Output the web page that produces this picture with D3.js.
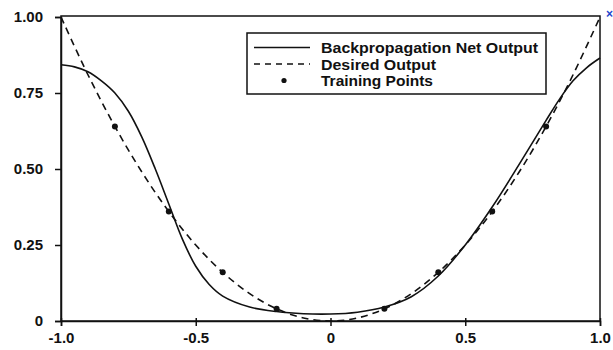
<!DOCTYPE html>
<html><head><meta charset="utf-8">
<script src="https://cdn.jsdelivr.net/npm/d3@7"></script>
<style>body{margin:0;background:#fff}svg{display:block}</style>
</head><body>
<svg id="c" width="613" height="350"></svg>
<script>
// Data
const xTicks = [-1.0, -0.5, 0, 0.5, 1.0];
const xTickLabels = ["-1.0", "-0.5", "0", "0.5", "1.0"];
const yTicks = [0, 0.25, 0.5, 0.75, 1.0];
const yTickLabels = ["0", "0.25", "0.50", "0.75", "1.00"];

const netX = [-1.0, -0.95, -0.9, -0.85, -0.8, -0.75, -0.7, -0.65, -0.6, -0.55, -0.5, -0.45, -0.4, -0.3, -0.2, -0.1, 0.0, 0.1, 0.2, 0.3, 0.4, 0.5, 0.6, 0.7, 0.8, 0.85, 0.9, 0.95, 1.0];
const netY = [0.843, 0.836, 0.82, 0.79, 0.75, 0.69, 0.605, 0.50, 0.385, 0.27, 0.18, 0.12, 0.082, 0.046, 0.031, 0.024, 0.023, 0.029, 0.046, 0.08, 0.148, 0.25, 0.375, 0.515, 0.66, 0.73, 0.79, 0.833, 0.865];

const desX = [-1.0, -0.9, -0.8, -0.7, -0.6, -0.5, -0.4, -0.3, -0.2, -0.1, 0.0, 0.1, 0.2, 0.3, 0.4, 0.5, 0.6, 0.7, 0.8, 0.9, 1.0];
const desY = [1.0, 0.81, 0.64, 0.49, 0.36, 0.25, 0.16, 0.09, 0.04, 0.01, 0.0, 0.01, 0.04, 0.09, 0.16, 0.25, 0.36, 0.49, 0.64, 0.81, 1.0];

const trainX = [-0.8, -0.6, -0.4, -0.2, 0.2, 0.4, 0.6, 0.8];
const trainY = [0.64, 0.36, 0.16, 0.04, 0.04, 0.16, 0.36, 0.64];

const legendLabels = ["Backpropagation Net Output", "Desired Output", "Training Points"];

const svg = d3.select("#c");
const L = 61, R = 600, T = 17, B = 321;
const x = d3.scaleLinear().domain([-1, 1]).range([L, R]);
const y = d3.scaleLinear().domain([0, 1]).range([B, T]);

const font = "'Liberation Sans', Arial, Helvetica, sans-serif";

// frame
svg.append("rect").attr("x", L).attr("y", T - 1).attr("width", R - L).attr("height", B - T + 1)
  .attr("fill", "none").attr("stroke", "#111").attr("stroke-width", 1.5);

// axes via d3 axis
const yAxis = d3.axisLeft(y).tickValues(yTicks).tickFormat((d, i) => yTickLabels[i]).tickSize(6).tickPadding(12);
const gy = svg.append("g").attr("transform", `translate(${L},0)`).call(yAxis);
gy.select(".domain").attr("stroke", "#111").attr("stroke-width", 1.5);
gy.selectAll(".tick line").attr("stroke", "#111").attr("stroke-width", 1.5);
gy.selectAll("text").attr("font-family", font).attr("font-size", 15).attr("font-weight", "bold").attr("fill", "#111");

const xAxis = d3.axisBottom(x).tickValues(xTicks).tickFormat((d, i) => xTickLabels[i]).tickSize(5).tickPadding(6);
const gx = svg.append("g").attr("transform", `translate(0,${B})`).call(xAxis);
gx.select(".domain").attr("stroke", "#111").attr("stroke-width", 1.5);
gx.selectAll(".tick line").attr("stroke", "#111").attr("stroke-width", 1.5).attr("y1", -3);
gx.selectAll("text").attr("font-family", font).attr("font-size", 15).attr("font-weight", "bold").attr("fill", "#111");

// curves
const line = d3.line().x(d => x(d[0])).y(d => y(d[1])).curve(d3.curveCatmullRom.alpha(0.5));
svg.append("path").datum(desX.map((v, i) => [v, desY[i]])).attr("d", line)
  .attr("fill", "none").attr("stroke", "#111").attr("stroke-width", 1.6).attr("stroke-dasharray", "7,5");
svg.append("path").datum(netX.map((v, i) => [v, netY[i]])).attr("d", line)
  .attr("fill", "none").attr("stroke", "#111").attr("stroke-width", 1.6);

svg.selectAll("circle.tp").data(trainX.map((v, i) => [v, trainY[i]])).enter().append("circle")
  .attr("class", "tp").attr("cx", d => x(d[0])).attr("cy", d => y(d[1])).attr("r", 3).attr("fill", "#111");

// legend
const lg = svg.append("g");
lg.append("rect").attr("x", 247).attr("y", 33).attr("width", 299).attr("height", 61)
  .attr("fill", "#fff").attr("stroke", "#111").attr("stroke-width", 1.5);
const ly = [47.5, 64, 80.5];
const lw = [217, 115, 112];
lg.append("line").attr("x1", 254).attr("x2", 310).attr("y1", ly[0]).attr("y2", ly[0]).attr("stroke", "#111").attr("stroke-width", 1.6);
lg.append("line").attr("x1", 254).attr("x2", 310).attr("y1", ly[1]).attr("y2", ly[1]).attr("stroke", "#111").attr("stroke-width", 1.6).attr("stroke-dasharray", "6,5");
lg.append("circle").attr("cx", 284).attr("cy", ly[2]).attr("r", 2.6).attr("fill", "#111");
legendLabels.forEach((t, i) => {
  lg.append("text").attr("x", 321).attr("y", ly[i] + 5.5).text(t)
    .attr("font-family", font).attr("font-size", 15).attr("font-weight", "bold").attr("fill", "#111")
    .attr("textLength", lw[i]).attr("lengthAdjust", "spacingAndGlyphs");
});

// small blue mark at top right edge
svg.append("text").attr("x", 606).attr("y", 18).text("×").attr("font-family", font)
  .attr("font-size", 12).attr("font-weight", "bold").attr("fill", "#2244cc");
</script>
</body></html>
